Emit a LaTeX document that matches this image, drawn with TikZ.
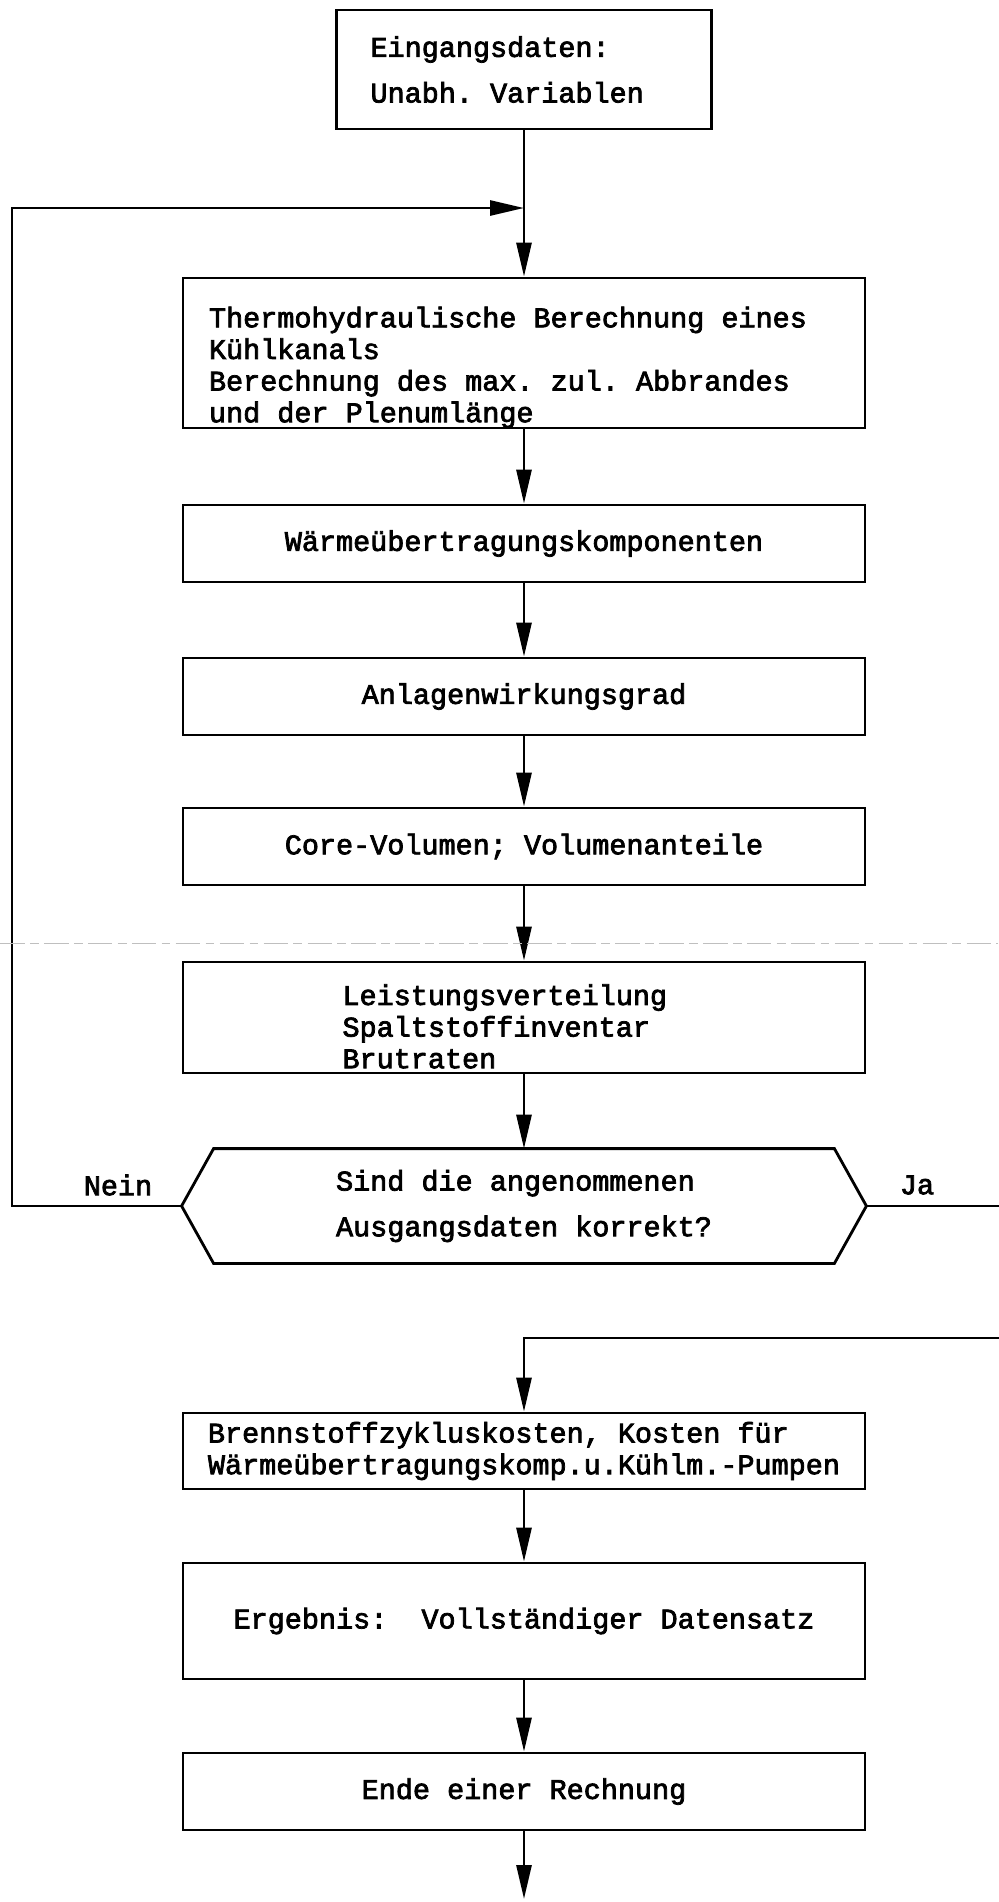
\documentclass[tikz,border=0pt]{standalone}
\usepackage{fontspec}
\newfontfamily\typewriter[FakeBold=2.6, WordSpace={1,0,0}]{Liberation Mono}
\newcommand\fixspace{\frenchspacing\spaceskip=0pt\xspaceskip=0pt\relax}
\usetikzlibrary{arrows.meta}
\tikzset{
    box/.style={draw, line width=1.6pt, minimum width=13.64cm, minimum height=1.54cm, inner ysep=1pt,
        font=\typewriter\fontsize{16.2}{18}\selectfont},
    wide/.style={font=\typewriter\fontsize{16.2}{26}\selectfont},
    lbl/.style={font=\typewriter\fontsize{16.2}{18}\selectfont, inner sep=0pt},
}
\begin{document}
\begin{tikzpicture}[>={Triangle[length=6.8mm, width=3mm]}, line width=1.6pt]
    \useasboundingbox (0,0) rectangle (19.96,-38.04);
    \def\cx{10.48}
    % Input
    \node[box, wide, minimum width=7.5cm, minimum height=2.38cm, text width=6.14cm, inner xsep=0.68cm, align=left] (start) at (\cx,-1.39) {\fixspace Eingangsdaten:\\Unabh. Variablen};

    % Main chain
    \node[box, minimum height=3cm, text width=12.6cm, inner xsep=0.52cm, align=left, text depth=41pt] (thermo) at (\cx,-7.06)
        {\fixspace Thermohydraulische Berechnung eines\\Kühlkanals\\Berechnung des max. zul. Abbrandes\\und der Plenumlänge};
    \node[box] (waerme) at (\cx,-10.87) {Wärmeübertragungskomponenten};
    \node[box] (anlage) at (\cx,-13.93) {Anlagenwirkungsgrad};
    \node[box] (core) at (\cx,-16.93) {Core-Volumen; Volumenanteile};
    \node[box, minimum height=2.22cm, text width=7.26cm, inner xsep=3.18cm, align=left, text depth=26pt] (leistung) at (\cx,-20.35)
        {Leistungsverteilung\\Spaltstoffinventar\\Brutraten};

    % Decision
    \node[box, wide, draw=none, minimum height=2.24cm, align=left] (check) at (\cx,-24.12)
        {Sind die angenommenen\\Ausgangsdaten korrekt?};
    \draw ([xshift=0.64cm]check.north west) -- ([xshift=-0.64cm]check.north east) -- (check.east)
        -- ([xshift=-0.64cm]check.south east) -- ([xshift=0.64cm]check.south west) -- (check.west) -- cycle;
    \node[lbl] (nein) at (2.36,-23.7) {Nein};
    \node[lbl] (ja) at (18.34,-23.7) {Ja};

    % Lower chain
    \node[box, minimum height=1.52cm, align=left] (cost) at (\cx,-29.02)
        {Brennstoffzykluskosten, Kosten für\\Wärmeübertragungskomp.u.Kühlm.-Pumpen};
    \node[box, minimum height=2.32cm] (result) at (\cx,-32.42) {Ergebnis:\ \ Vollständiger Datensatz};
    \node[box] (ende) at (\cx,-35.83) {Ende einer Rechnung};

    % Connectors
    \coordinate (merge) at (\cx,-4.16);
    \coordinate (join) at (\cx,-26.76);
    \coordinate (loopx) at (0.24,0);
    \coordinate (rightx) at (20.1,0);
    \coordinate (out) at (\cx,-37.98);
    \draw[->] (start) -- (thermo);
    \draw[->] (thermo) -- (waerme);
    \draw[->] (waerme) -- (anlage);
    \draw[->] (anlage) -- (core);
    \draw[->] (core) -- (leistung);
    \draw[->] (leistung) -- (check);
    \draw[->] (check.west) -- (check.west -| loopx) |- (merge);
    \draw[->] (check.east) -- (check.east -| rightx) |- (join) -- (cost);
    \draw[->] (cost) -- (result);
    \draw[->] (result) -- (ende);
    \draw[->] (ende) -- (out);

    % Fold line of the scan
    \draw[gray!50, line width=0.5pt, dash pattern=on 14pt off 3pt on 5pt off 3pt] (0,-18.86) -- (19.96,-18.86);
\end{tikzpicture}
\end{document}
